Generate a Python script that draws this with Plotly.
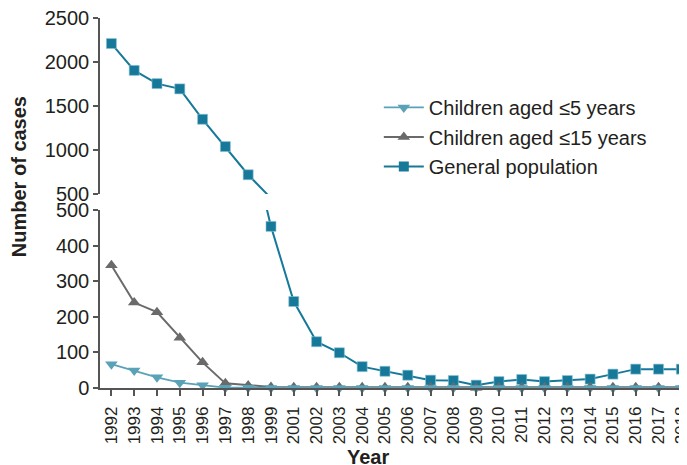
import plotly.graph_objects as go

years = ['1992', '1993', '1994', '1995', '1996', '1997', '1998', '1999', '2001', '2002',
         '2003', '2004', '2005', '2006', '2007', '2008', '2009', '2010', '2011', '2012',
         '2013', '2014', '2015', '2016', '2017', '2018']
general_population = [2210, 1905, 1755, 1695, 1350, 1040, 720, 454, 243, 130,
                      99, 60, 47, 36, 22, 21, 8, 18, 24, 18,
                      21, 25, 39, 53, 53, 53]
children_le15 = [345, 240, 213, 141, 72, 13, 7, 3, 2, 2,
                 2, 2, 2, 2, 2, 2, 1, 2, 2, 2,
                 2, 2, 2, 2, 2, 2]
children_le5 = [67, 49, 30, 15, 8, 1, 1, 0, 0, 0,
                0, 0, 0, 0, 0, 0, 0, 0, 0, 0,
                0, 0, 0, 0, 0, 0]

BREAK = 500
C_GEN = '#17799a'
C_15 = '#6a6a6a'
C_5 = '#5aa2b7'
AXIS = '#555555'
TXT = '#231f20'
FONT = 'Liberation Sans, Arial, sans-serif'

fig = go.Figure()

# general population: lines in both panels, markers only where in range
for yax in ('y', 'y2'):
    fig.add_trace(go.Scatter(x=years, y=general_population, mode='lines', yaxis=yax,
                             line=dict(color=C_GEN, width=2), showlegend=False,
                             hoverinfo='skip'))
fig.add_trace(go.Scatter(x=years, y=[v if v >= BREAK else None for v in general_population],
                         mode='markers', yaxis='y2', cliponaxis=False,
                         marker=dict(symbol='square', size=10, color=C_GEN,
                                     line=dict(color='#8cc3d3', width=0.6)),
                         showlegend=False))
fig.add_trace(go.Scatter(x=years, y=[v if v <= BREAK else None for v in general_population],
                         mode='markers', yaxis='y', cliponaxis=False,
                         marker=dict(symbol='square', size=10, color=C_GEN,
                                     line=dict(color='#8cc3d3', width=0.6)),
                         showlegend=False))

fig.add_trace(go.Scatter(x=years, y=children_le15, mode='lines+markers', yaxis='y',
                         name='Children aged ≤15 years', cliponaxis=False,
                         line=dict(color=C_15, width=2),
                         marker=dict(symbol='triangle-up', size=11, color=C_15),
                         legendrank=2, legendgroup='b'))
fig.add_trace(go.Scatter(x=years, y=children_le5, mode='lines+markers', yaxis='y',
                         name='Children aged ≤5 years', cliponaxis=False,
                         line=dict(color=C_5, width=1.8),
                         marker=dict(symbol='triangle-down', size=11, color=C_5),
                         legendrank=1, legendgroup='a'))
# legend entry for general population
fig.add_trace(go.Scatter(x=[None], y=[None], mode='lines+markers', yaxis='y',
                         name='General population',
                         line=dict(color=C_GEN, width=2),
                         marker=dict(symbol='square', size=10, color=C_GEN),
                         legendrank=3, legendgroup='c'))

axis_common = dict(showline=True, linecolor=AXIS, linewidth=1.5, ticks='outside',
                   ticklen=5, tickcolor=AXIS, tickwidth=1.5, showgrid=False,
                   zeroline=False, automargin=False, ticklabeloverflow='allow',
                   tickfont=dict(family=FONT, size=20, color=TXT))

fig.update_layout(
    width=687, height=465,
    margin=dict(l=92, r=0, t=10, b=85),
    plot_bgcolor='white', paper_bgcolor='white',
    font=dict(family=FONT, color=TXT),
    xaxis=dict(type='category', range=[-0.5, 25.6], tickangle=-90,
               tickmode='linear', tick0=0, dtick=1,
               anchor='y', showline=True, linecolor=AXIS, linewidth=1.5,
               ticks='outside', ticklen=6, tickcolor=AXIS, tickwidth=1.5,
               showgrid=False, zeroline=False, automargin=False,
               ticklabeloverflow='allow', ticklabelstandoff=4,
               tickfont=dict(family=FONT, size=17, color=TXT)),
    yaxis=dict(domain=[0, 0.481], range=[0, BREAK], tickvals=[0, 100, 200, 300, 400, 500],
               anchor='x', **axis_common),
    yaxis2=dict(domain=[0.524, 1], range=[BREAK, 2500], tickvals=[500, 1000, 1500, 2000, 2500],
                anchor='x', **axis_common),
    legend=dict(x=0.4686, y=0.811, xanchor='left', yanchor='top',
                font=dict(family=FONT, size=20, color=TXT),
                bgcolor='rgba(0,0,0,0)', tracegroupgap=0.5, itemwidth=40),
    showlegend=True,
)

fig.add_annotation(text='<b>Number of cases</b>', textangle=-90, xref='paper', yref='paper',
                   x=-0.136, y=0.57, xanchor='center', yanchor='middle', showarrow=False,
                   font=dict(family=FONT, size=20, color=TXT))
fig.add_annotation(text='<b>Year</b>', xref='paper', yref='paper',
                   x=0.450, y=-0.186, xanchor='center', yanchor='middle', showarrow=False,
                   font=dict(family=FONT, size=20, color=TXT))

fig.write_html('out.html')
